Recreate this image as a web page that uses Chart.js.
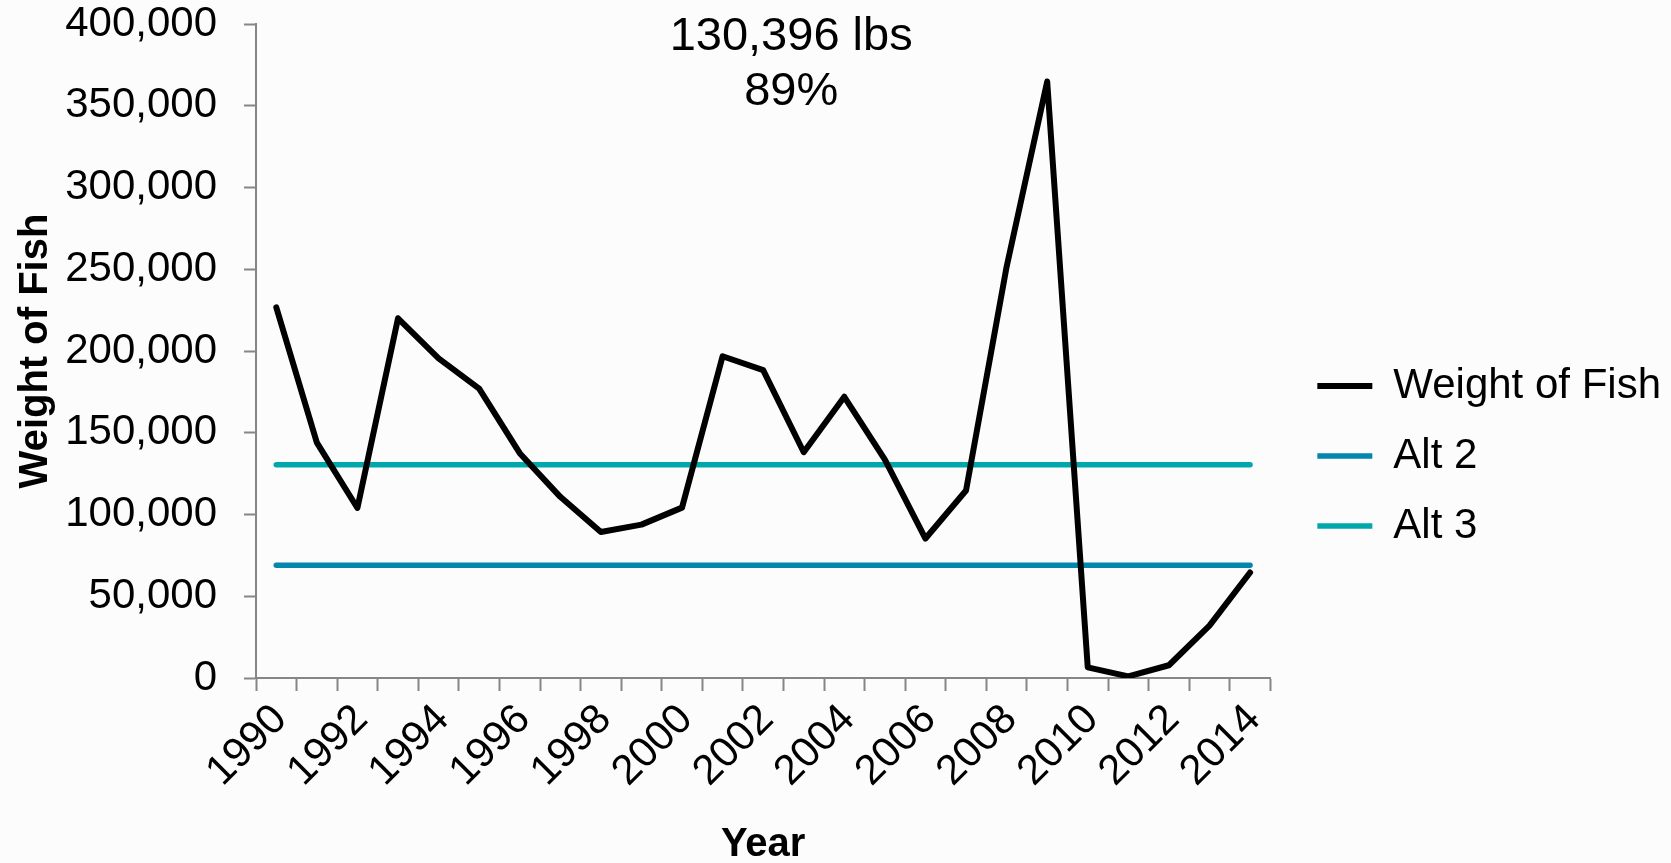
<!DOCTYPE html>
<html>
<head>
<meta charset="utf-8">
<title>Weight of Fish</title>
<script src="https://cdn.jsdelivr.net/npm/chart.js@4.4.0/dist/chart.umd.min.js"></script>
<style>
    html, body { margin: 0; padding: 0; background: #fcfcfc; }
    #wrap { width: 1671px; height: 863px; }
</style>
</head>
<body>
<div id="wrap"><canvas id="fish-chart"></canvas></div>
<script>
const years = [1990, 1991, 1992, 1993, 1994, 1995, 1996, 1997, 1998, 1999, 2000, 2001, 2002,
               2003, 2004, 2005, 2006, 2007, 2008, 2009, 2010, 2011, 2012, 2013, 2014];
const fishWeight = [226700, 144000, 104000, 220000, 195500, 177000, 137500, 110800, 89300, 93800,
                    104200, 196800, 188300, 138100, 172000, 133600, 85300, 114700, 251500, 364800,
                    6500, 1000, 7800, 32000, 64500];
const alt2Value = 69000;
const alt3Value = 130396;
const annotationLines = ["130,396 lbs", "89%"];
const yTicks = { min: 0, max: 400000, step: 50000 };

const FONT = "'Liberation Sans', Arial, sans-serif";

// text block at the top of the plot
const headerPlugin = {
    id: "header",
    afterDatasetsDraw(chart) {
        const { ctx, chartArea } = chart;
        const cx = chartArea.left + chartArea.width * 0.5276;
        ctx.save();
        ctx.font = "47px " + FONT;
        ctx.fillStyle = "#000";
        ctx.textAlign = "center";
        ctx.textBaseline = "middle";
        annotationLines.forEach((line, i) => {
            ctx.fillText(line, cx, chartArea.top + 13 + i * 55);
        });
        ctx.restore();
    }
};

document.addEventListener("DOMContentLoaded", () => {
    const ctx = document.getElementById("fish-chart").getContext("2d");

    new Chart(ctx, {
        type: "line",
        data: {
            labels: years,
            datasets: [
                {
                    label: "Weight of Fish",
                    data: fishWeight,
                    borderColor: "#000000",
                    backgroundColor: "#000000",
                    borderWidth: 6,
                    borderCapStyle: "round",
                    borderJoinStyle: "round",
                    pointRadius: 0,
                    tension: 0
                },
                {
                    label: "Alt 2",
                    data: years.map(() => alt2Value),
                    borderColor: "#0586AD",
                    backgroundColor: "#0586AD",
                    borderWidth: 5.5,
                    borderCapStyle: "round",
                    pointRadius: 0
                },
                {
                    label: "Alt 3",
                    data: years.map(() => alt3Value),
                    borderColor: "#00A8AC",
                    backgroundColor: "#00A8AC",
                    borderWidth: 5.5,
                    borderCapStyle: "round",
                    pointRadius: 0
                }
            ]
        },
        options: {
            responsive: true,
            maintainAspectRatio: false,
            animation: false,
            layout: { padding: 0 },
            plugins: {
                tooltip: { enabled: false },
                legend: {
                    position: "right",
                    align: "center",
                    // empty title only pushes the items down a bit
                    title: { display: true, text: "", font: { size: 10, lineHeight: 1.2 }, padding: { top: 37, bottom: 0 } },
                    labels: {
                        usePointStyle: true,
                        pointStyle: "line",
                        pointStyleWidth: 55,
                        color: "#000",
                        padding: 28,
                        font: { family: FONT, size: 42 }
                    }
                }
            },
            scales: {
                x: {
                    offset: true,
                    grid: {
                        offset: true,
                        drawOnChartArea: false,
                        drawTicks: true,
                        tickLength: 13,
                        tickWidth: 2,
                        tickColor: "#868686"
                    },
                    border: { color: "#868686", width: 2 },
                    ticks: {
                        autoSkip: false,
                        maxRotation: 45,
                        minRotation: 45,
                        padding: 4,
                        labelOffset: 4,
                        color: "#000",
                        font: { family: FONT, size: 42 },
                        callback: (val, i) => (i % 2 === 0 ? years[i] : "")
                    },
                    title: {
                        display: true,
                        text: "Year",
                        color: "#000",
                        font: { family: FONT, size: 40, weight: "bold", lineHeight: 0.9 },
                        padding: { top: 26, bottom: 0 }
                    },
                    afterFit: (scale) => { scale.height = 185; }
                },
                y: {
                    min: yTicks.min,
                    max: yTicks.max,
                    grid: {
                        drawOnChartArea: false,
                        drawTicks: true,
                        tickLength: 12,
                        tickWidth: 2,
                        tickColor: "#868686"
                    },
                    border: { color: "#868686", width: 2 },
                    ticks: {
                        stepSize: yTicks.step,
                        padding: 27,
                        color: "#000",
                        font: { family: FONT, size: 42 },
                        callback: (v) => v.toLocaleString("en-US")
                    },
                    title: {
                        display: true,
                        text: "Weight of Fish",
                        color: "#000",
                        font: { family: FONT, size: 40, weight: "bold", lineHeight: 1 },
                        padding: { top: 16, bottom: 10 }
                    },
                    afterFit: (scale) => {
                        scale.width = 256;
                        scale.paddingTop = 24;
                    }
                },
                // blank gap between the plot and the legend
                gap: {
                    position: "right",
                    display: false,
                    afterFit: (scale) => { scale.width = 19; }
                }
            }
        },
        plugins: [headerPlugin]
    });
});
</script>
</body>
</html>
